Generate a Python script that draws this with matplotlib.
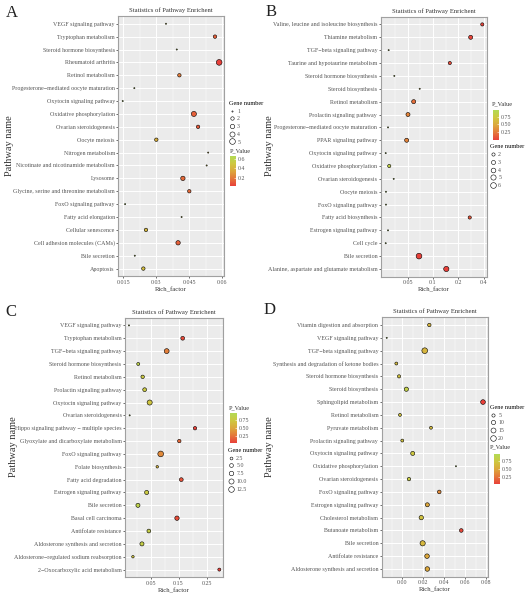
import numpy as np
import matplotlib
matplotlib.use("Agg")
import matplotlib.pyplot as plt
from matplotlib.colors import LinearSegmentedColormap, Normalize
from matplotlib.cm import ScalarMappable
from matplotlib.lines import Line2D

plt.rcParams['font.family'] = ['Liberation Serif', 'DejaVu Serif']

# ---- panel A (top to bottom) ----
a_pathways = ["VEGF signaling pathway", "Tryptophan metabolism", "Steroid hormone biosynthesis",
              "Rheumatoid arthritis", "Retinol metabolism", "Progesterone\u2212mediated oocyte maturation",
              "Oxytocin signaling pathway", "Oxidative phosphorylation", "Ovarian steroidogenesis",
              "Oocyte meiosis", "Nitrogen metabolism", "Nicotinate and nicotinamide metabolism",
              "Lysosome", "Glycine, serine and threonine metabolism", "FoxO signaling pathway",
              "Fatty acid elongation", "Cellular senescence", "Cell adhesion molecules (CAMs)",
              "Bile secretion", "Apoptosis"]
a_rich = [0.0344, 0.0567, 0.0393, 0.0586, 0.0405, 0.0200, 0.0147, 0.0471, 0.0490, 0.0300,
          0.0536, 0.0529, 0.0421, 0.0450, 0.0158, 0.0415, 0.0253, 0.0399, 0.0202, 0.0241]
a_genes = [1, 2, 1, 5, 2, 1, 1, 4, 2, 2, 1, 1, 3, 2, 1, 1, 2, 3, 1, 2]
a_pvals = [0.55, 0.12, 0.60, 0.03, 0.20, 0.62, 0.66, 0.12, 0.10, 0.38,
           0.45, 0.47, 0.15, 0.15, 0.64, 0.55, 0.42, 0.12, 0.62, 0.45]

# ---- panel B ----
b_pathways = ["Valine, leucine and isoleucine biosynthesis", "Thiamine metabolism",
              "TGF\u2212beta signaling pathway", "Taurine and hypotaurine metabolism",
              "Steroid hormone biosynthesis", "Steroid biosynthesis", "Retinol metabolism",
              "Prolactin signaling pathway", "Progesterone\u2212mediated oocyte maturation",
              "PPAR signaling pathway", "Oxytocin signaling pathway", "Oxidative phosphorylation",
              "Ovarian steroidogenesis", "Oocyte meiosis", "FoxO signaling pathway",
              "Fatty acid biosynthesis", "Estrogen signaling pathway", "Cell cycle",
              "Bile secretion", "Alanine, aspartate and glutamate metabolism"]
b_rich = [0.383, 0.279, 0.0298, 0.158, 0.0348, 0.0695, 0.0590, 0.0505, 0.0293, 0.0487,
          0.0275, 0.0303, 0.0342, 0.0277, 0.0277, 0.272, 0.0293, 0.0275, 0.0682, 0.1436]
b_genes = [2, 3, 1, 2, 1, 1, 3, 3, 1, 3, 1, 2, 1, 1, 1, 2, 1, 1, 6, 5]
b_pvals = [0.02, 0.03, 0.85, 0.06, 0.90, 0.70, 0.20, 0.30, 0.90, 0.30,
           0.96, 0.82, 0.90, 0.95, 0.95, 0.10, 0.92, 0.96, 0.01, 0.005]

# ---- panel C ----
c_pathways = ["VEGF signaling pathway", "Tryptophan metabolism", "TGF\u2212beta signaling pathway",
              "Steroid hormone biosynthesis", "Retinol metabolism", "Prolactin signaling pathway",
              "Oxytocin signaling pathway", "Ovarian steroidogenesis",
              "Hippo signaling pathway \u2212 multiple species", "Glyoxylate and dicarboxylate metabolism",
              "FoxO signaling pathway", "Folate biosynthesis", "Fatty acid degradation",
              "Estrogen signaling pathway", "Bile secretion", "Basal cell carcinoma",
              "Antifolate resistance", "Aldosterone synthesis and secretion",
              "Aldosterone\u2212regulated sodium reabsorption", "2\u2212Oxocarboxylic acid metabolism"]
c_rich = [-0.027, 0.1648, 0.1076, 0.0062, 0.0219, 0.0290, 0.0469, -0.0245, 0.2087, 0.1526,
          0.0862, 0.0740, 0.1598, 0.0362, 0.0051, 0.1444, 0.0440, 0.0194, -0.0128, 0.2955]
c_genes = [1, 5, 9, 3, 4, 5, 10, 1, 4, 4, 13, 2, 5, 6, 6, 7, 5, 6, 2, 3]
c_pvals = [0.90, 0.08, 0.30, 0.85, 0.75, 0.75, 0.70, 0.95, 0.05, 0.20,
           0.35, 0.60, 0.12, 0.75, 0.85, 0.10, 0.80, 0.80, 0.70, 0.04]

# ---- panel D ----
d_pathways = ["Vitamin digestion and absorption", "VEGF signaling pathway", "TGF\u2212beta signaling pathway",
              "Synthesis and degradation of ketone bodies", "Steroid hormone biosynthesis",
              "Steroid biosynthesis", "Sphingolipid metabolism", "Retinol metabolism",
              "Pyruvate metabolism", "Prolactin signaling pathway", "Oxytocin signaling pathway",
              "Oxidative phosphorylation", "Ovarian steroidogenesis", "FoxO signaling pathway",
              "Estrogen signaling pathway", "Cholesterol metabolism", "Butanoate metabolism",
              "Bile secretion", "Antifolate resistance", "Aldosterone synthesis and secretion"]
d_rich = [0.0257, -0.0151, 0.0213, -0.0059, -0.0033, 0.0037, 0.0771, -0.0024, 0.0273, -0.0002,
          0.0098, 0.0512, 0.0062, 0.0352, 0.0238, 0.0180, 0.0563, 0.0193, 0.0235, 0.0238]
d_genes = [6, 1, 21, 4, 5, 10, 13, 4, 4, 4, 9, 1, 6, 7, 9, 11, 7, 17, 12, 12]
d_pvals = [0.60, 0.99, 0.60, 0.65, 0.70, 0.85, 0.02, 0.70, 0.65, 0.70,
           0.75, 0.99, 0.80, 0.35, 0.50, 0.70, 0.06, 0.62, 0.50, 0.50]

W, H = 529, 600
fig = plt.figure(figsize=(5.29, 6), dpi=100)

cmap = LinearSegmentedColormap.from_list(
    'pval', ['#E8403A', '#E4783A', '#DCA83C', '#CEC840', '#B2DA55'])


def box(x0, y0, x1, y1):
    # pixel box (top-left origin) -> figure fraction rect
    return [x0 / W, 1 - y1 / H, (x1 - x0) / W, (y1 - y0) / H]


def diam(n, nmin, nmax, dmin=1.2, dmax=5.7):
    n = np.asarray(n, float)
    return dmin + (dmax - dmin) * np.sqrt((n - nmin) / (nmax - nmin))


def draw_panel(rect, pathways, rich, genes, pvals, xlim, xticks, xminor, xlog=False):
    ax = fig.add_axes(box(*rect))
    ax.set_facecolor('#EBEBEB')
    if xlog:
        ax.set_xscale('log')
    y = np.arange(len(pathways), 0, -1)
    g = np.asarray(genes)
    d = diam(g, g.min(), g.max())
    norm = Normalize(min(pvals), max(pvals))
    ax.scatter(rich, y, s=(d * 0.72) ** 2, c=pvals, cmap=cmap, norm=norm,
               edgecolors='black', linewidths=0.4, zorder=3)
    ax.set_yticks(y, pathways)
    ax.set_ylim(0.4, len(pathways) + 0.6)
    ax.set_xlim(*xlim)
    ax.set_xticks(xticks, [f'{t:g}' if t != 0 else '0.00' for t in xticks])
    ax.set_xticks(xminor, minor=True)
    ax.xaxis.set_minor_formatter(matplotlib.ticker.NullFormatter())
    ax.grid(which='major', color='white', lw=0.7)
    ax.grid(which='minor', axis='x', color='white', lw=0.35)
    ax.set_axisbelow(True)
    ax.tick_params(which='major', length=1.5, width=0.5, color='#333333',
                   labelsize=4.3, labelcolor='#555555', pad=1)
    ax.tick_params(which='minor', length=0)
    for sp in ax.spines.values():
        sp.set_color('#A0A0A0')
        sp.set_linewidth(0.8)
    ax.set_title('Statistics of Pathway Enrichent', fontsize=4.8, color='#333333', pad=3)
    ax.set_xlabel('Rich_factor', fontsize=4.8, color='#333333', labelpad=1.5)
    return ax, norm


def size_legend(ax, genes, breaks, labels, x, y):
    g = np.asarray(genes)
    handles = [Line2D([], [], ls='', marker='o', markersize=float(diam(b, g.min(), g.max())) * 0.72,
                      markerfacecolor='none', markeredgecolor='black', markeredgewidth=0.4)
               for b in breaks]
    ax.legend(handles, labels,
              title='Gene number', loc='upper left', bbox_to_anchor=(x / W, 1 - y / H),
              bbox_transform=fig.transFigure, frameon=False, fontsize=4.2, title_fontsize=4.5,
              borderpad=0, borderaxespad=0, labelspacing=0.45, handlelength=1,
              handletextpad=0.4, alignment='left', labelcolor='#555555')


def pval_bar(norm, ticks, labels, rect, title_xy):
    cax = fig.add_axes(box(*rect))
    cb = fig.colorbar(ScalarMappable(norm, cmap), cax=cax)
    cb.set_ticks(ticks, labels=labels)
    cb.outline.set_visible(False)
    cax.tick_params(length=1.2, width=0.4, color='white', labelsize=4.2,
                    labelcolor='#555555', pad=1.5, direction='in')
    fig.text(title_xy[0] / W, 1 - title_xy[1] / H, 'P_Value', fontsize=4.5,
             ha='left', va='center', color='#333333')


# A
ax, norm = draw_panel((118.3, 16, 224, 276.3), a_pathways, a_rich, a_genes, a_pvals,
                      (0.0127, 0.0608), [0.015, 0.03, 0.045, 0.06], [0.0225, 0.0375, 0.0525])
size_legend(ax, a_genes, [1, 2, 3, 4, 5], ['1', '2', '3', '4', '5'], 229, 101)
pval_bar(norm, [0.2, 0.4, 0.6], ['0.2', '0.4', '0.6'], (230, 156, 236, 186), (230, 150.7))

# B
ax, norm = draw_panel((380.7, 16.7, 486.7, 276.7), b_pathways, b_rich, b_genes, b_pvals,
                      (0.024, 0.432), [0.05, 0.1, 0.2, 0.4], [0.0354, 0.0707, 0.1414, 0.2828],
                      xlog=True)
pval_bar(norm, [0.25, 0.5, 0.75], ['0.25', '0.50', '0.75'], (493, 110, 499, 140), (492, 104.3))
size_legend(ax, b_genes, [2, 3, 4, 5, 6], ['2', '3', '4', '5', '6'], 490, 144.5)

# C
ax, norm = draw_panel((125, 317.7, 223.3, 577.3), c_pathways, c_rich, c_genes, c_pvals,
                      (-0.0411, 0.3097), [0.05, 0.15, 0.25], [0.0, 0.1, 0.2, 0.3])
pval_bar(norm, [0.25, 0.5, 0.75], ['0.25', '0.50', '0.75'], (230, 413, 237, 443), (229, 408.3))
size_legend(ax, c_genes, [2.5, 5.0, 7.5, 10.0, 12.5],
            ['2.5', '5.0', '7.5', '10.0', '12.5'], 228, 448)

# D
ax, norm = draw_panel((381.7, 317.3, 487.7, 576.7), d_pathways, d_rich, d_genes, d_pvals,
                      (-0.0199, 0.0816), [0.0, 0.02, 0.04, 0.06, 0.08],
                      [-0.01, 0.01, 0.03, 0.05, 0.07])
size_legend(ax, d_genes, [5, 10, 15, 20], ['5', '10', '15', '20'], 490, 405)
pval_bar(norm, [0.25, 0.5, 0.75], ['0.25', '0.50', '0.75'], (494, 454, 500, 484), (490, 446.7))

# y-axis titles and panel letters
for x, y in [(10, 146), (269, 146), (13, 447), (270, 447)]:
    fig.text(x / W, 1 - y / H, 'Pathway name', rotation=90, fontsize=7.5,
             ha='center', va='center', color='#333333')
for letter, x, y in [('A', 12, 13), ('B', 271, 12), ('C', 11, 312), ('D', 270, 310)]:
    fig.text(x / W, 1 - y / H, letter, fontsize=12, ha='center', va='center', color='#222222')

fig.savefig('out.png', dpi=100)
